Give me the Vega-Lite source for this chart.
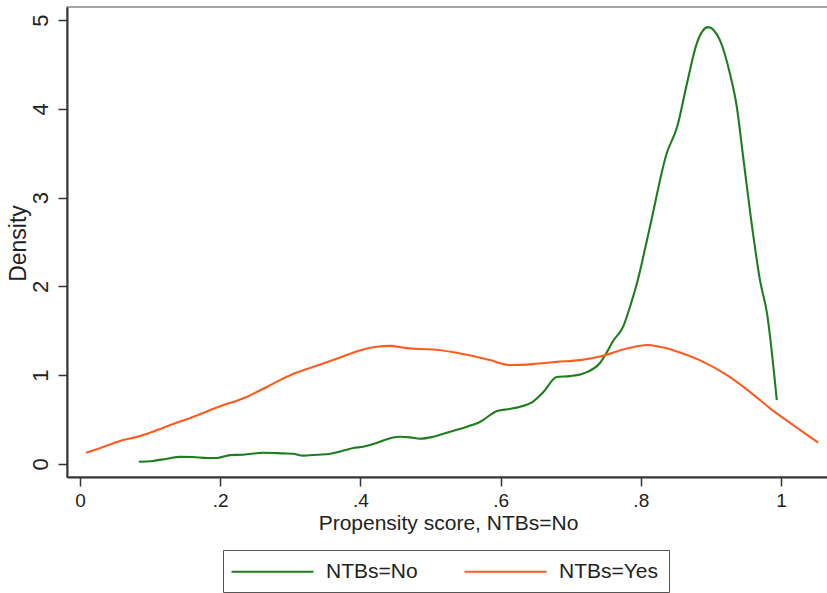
{
  "$schema": "https://vega.github.io/schema/vega-lite/v6.json",
  "autosize": "none",
  "width": 762,
  "height": 470,
  "padding": {"left": 67, "top": 7, "right": 0, "bottom": 116},
  "background": "white",
  "config": {
    "font": "Liberation Sans",
    "view": {"stroke": "#8a8a8a", "strokeWidth": 1.5},
    "axis": {"grid": false, "domainColor": "#333333", "domainWidth": 2, "tickColor": "#333333", "tickWidth": 1.5, "labelColor": "#222222", "titleColor": "#222222", "labelFont": "Liberation Sans", "titleFont": "Liberation Sans", "titleFontWeight": "normal"}
  },
  "datasets": {
    "curves": [
      {"s": "NTBs=No", "x": 0.084, "y": 0.026},
      {"s": "NTBs=No", "x": 0.104, "y": 0.034},
      {"s": "NTBs=No", "x": 0.124, "y": 0.06},
      {"s": "NTBs=No", "x": 0.143, "y": 0.08},
      {"s": "NTBs=No", "x": 0.161, "y": 0.078},
      {"s": "NTBs=No", "x": 0.181, "y": 0.067},
      {"s": "NTBs=No", "x": 0.195, "y": 0.067},
      {"s": "NTBs=No", "x": 0.214, "y": 0.1},
      {"s": "NTBs=No", "x": 0.233, "y": 0.105},
      {"s": "NTBs=No", "x": 0.261, "y": 0.127},
      {"s": "NTBs=No", "x": 0.29, "y": 0.12},
      {"s": "NTBs=No", "x": 0.304, "y": 0.116},
      {"s": "NTBs=No", "x": 0.318, "y": 0.094},
      {"s": "NTBs=No", "x": 0.338, "y": 0.105},
      {"s": "NTBs=No", "x": 0.357, "y": 0.116},
      {"s": "NTBs=No", "x": 0.375, "y": 0.15},
      {"s": "NTBs=No", "x": 0.39, "y": 0.18},
      {"s": "NTBs=No", "x": 0.404, "y": 0.195},
      {"s": "NTBs=No", "x": 0.423, "y": 0.236},
      {"s": "NTBs=No", "x": 0.438, "y": 0.28},
      {"s": "NTBs=No", "x": 0.456, "y": 0.307},
      {"s": "NTBs=No", "x": 0.471, "y": 0.3},
      {"s": "NTBs=No", "x": 0.485, "y": 0.285},
      {"s": "NTBs=No", "x": 0.504, "y": 0.307},
      {"s": "NTBs=No", "x": 0.528, "y": 0.364},
      {"s": "NTBs=No", "x": 0.552, "y": 0.42},
      {"s": "NTBs=No", "x": 0.571, "y": 0.476},
      {"s": "NTBs=No", "x": 0.595, "y": 0.597},
      {"s": "NTBs=No", "x": 0.613, "y": 0.62},
      {"s": "NTBs=No", "x": 0.628, "y": 0.645},
      {"s": "NTBs=No", "x": 0.646, "y": 0.7},
      {"s": "NTBs=No", "x": 0.661, "y": 0.81},
      {"s": "NTBs=No", "x": 0.68, "y": 0.98},
      {"s": "NTBs=No", "x": 0.699, "y": 0.99},
      {"s": "NTBs=No", "x": 0.718, "y": 1.02},
      {"s": "NTBs=No", "x": 0.742, "y": 1.14},
      {"s": "NTBs=No", "x": 0.751, "y": 1.25},
      {"s": "NTBs=No", "x": 0.76, "y": 1.38},
      {"s": "NTBs=No", "x": 0.775, "y": 1.55},
      {"s": "NTBs=No", "x": 0.785, "y": 1.78},
      {"s": "NTBs=No", "x": 0.795, "y": 2.05},
      {"s": "NTBs=No", "x": 0.813, "y": 2.67},
      {"s": "NTBs=No", "x": 0.837, "y": 3.5},
      {"s": "NTBs=No", "x": 0.852, "y": 3.8},
      {"s": "NTBs=No", "x": 0.866, "y": 4.29},
      {"s": "NTBs=No", "x": 0.88, "y": 4.74},
      {"s": "NTBs=No", "x": 0.896, "y": 4.92},
      {"s": "NTBs=No", "x": 0.913, "y": 4.77},
      {"s": "NTBs=No", "x": 0.927, "y": 4.4},
      {"s": "NTBs=No", "x": 0.937, "y": 4.02},
      {"s": "NTBs=No", "x": 0.946, "y": 3.46},
      {"s": "NTBs=No", "x": 0.96, "y": 2.6},
      {"s": "NTBs=No", "x": 0.97, "y": 2.07},
      {"s": "NTBs=No", "x": 0.98, "y": 1.7},
      {"s": "NTBs=No", "x": 0.994, "y": 0.72},
      {"s": "NTBs=Yes", "x": 0.0086, "y": 0.127},
      {"s": "NTBs=Yes", "x": 0.029, "y": 0.18},
      {"s": "NTBs=Yes", "x": 0.057, "y": 0.26},
      {"s": "NTBs=Yes", "x": 0.086, "y": 0.315},
      {"s": "NTBs=Yes", "x": 0.104, "y": 0.364},
      {"s": "NTBs=Yes", "x": 0.133, "y": 0.45},
      {"s": "NTBs=Yes", "x": 0.161, "y": 0.53},
      {"s": "NTBs=Yes", "x": 0.2, "y": 0.65},
      {"s": "NTBs=Yes", "x": 0.233, "y": 0.74},
      {"s": "NTBs=Yes", "x": 0.267, "y": 0.87},
      {"s": "NTBs=Yes", "x": 0.3, "y": 1.0},
      {"s": "NTBs=Yes", "x": 0.328, "y": 1.08},
      {"s": "NTBs=Yes", "x": 0.357, "y": 1.16},
      {"s": "NTBs=Yes", "x": 0.375, "y": 1.21},
      {"s": "NTBs=Yes", "x": 0.4, "y": 1.28},
      {"s": "NTBs=Yes", "x": 0.423, "y": 1.32},
      {"s": "NTBs=Yes", "x": 0.442, "y": 1.33},
      {"s": "NTBs=Yes", "x": 0.466, "y": 1.305},
      {"s": "NTBs=Yes", "x": 0.485, "y": 1.295},
      {"s": "NTBs=Yes", "x": 0.504, "y": 1.29},
      {"s": "NTBs=Yes", "x": 0.552, "y": 1.23},
      {"s": "NTBs=Yes", "x": 0.585, "y": 1.17},
      {"s": "NTBs=Yes", "x": 0.613, "y": 1.115},
      {"s": "NTBs=Yes", "x": 0.646, "y": 1.125},
      {"s": "NTBs=Yes", "x": 0.68, "y": 1.15},
      {"s": "NTBs=Yes", "x": 0.713, "y": 1.17},
      {"s": "NTBs=Yes", "x": 0.742, "y": 1.21},
      {"s": "NTBs=Yes", "x": 0.78, "y": 1.3},
      {"s": "NTBs=Yes", "x": 0.809, "y": 1.34},
      {"s": "NTBs=Yes", "x": 0.827, "y": 1.32},
      {"s": "NTBs=Yes", "x": 0.86, "y": 1.245},
      {"s": "NTBs=Yes", "x": 0.884, "y": 1.17},
      {"s": "NTBs=Yes", "x": 0.923, "y": 1.0},
      {"s": "NTBs=Yes", "x": 0.956, "y": 0.81},
      {"s": "NTBs=Yes", "x": 0.984, "y": 0.63},
      {"s": "NTBs=Yes", "x": 1.017, "y": 0.44},
      {"s": "NTBs=Yes", "x": 1.053, "y": 0.24}
    ]
  },
  "data": {"name": "curves"},
  "mark": {"type": "line", "strokeWidth": 2.1, "interpolate": "monotone", "clip": true},
  "encoding": {
    "x": {
      "field": "x", "type": "quantitative",
      "scale": {"domain": [-0.01854, 1.06848], "nice": false, "zero": false},
      "axis": {"values": [0, 0.2, 0.4, 0.6, 0.8, 1], "labelExpr": "replace(format(datum.value, '~g'), '0.', '.')", "tickSize": 9, "labelPadding": 5, "labelFontSize": 19, "labelFlush": false,
        "title": "Propensity score, NTBs=No", "titleFontSize": 21, "titleBaseline": "alphabetic", "titleY": 52, "titleAlign": "center"}
    },
    "y": {
      "field": "y", "type": "quantitative",
      "scale": {"domain": [-0.1464, 5.1464], "nice": false, "zero": false},
      "axis": {"values": [0, 1, 2, 3, 4, 5], "tickSize": 9, "labelAngle": -90, "labelAlign": "center", "labelBaseline": "alphabetic", "labelPadding": 11, "labelFontSize": 22, "labelFlush": false,
        "title": "Density", "titleFontSize": 23, "titleAngle": -90, "titleBaseline": "alphabetic", "titleAlign": "center", "titleX": -42, "titleY": 236}
    },
    "color": {
      "field": "s", "type": "nominal",
      "scale": {"domain": ["NTBs=No", "NTBs=Yes"], "range": ["#1e7d1e", "#ff5b21"]},
      "legend": {
        "title": null, "orient": "none", "legendX": 156, "legendY": 543,
        "direction": "horizontal", "columns": 2,
        "symbolType": "M-1.3,0H6.9", "symbolSize": 400, "symbolStrokeWidth": 2.1, "symbolFillColor": "transparent",
        "labelFontSize": 21, "labelFont": "Liberation Sans", "labelColor": "#222222", "labelOffset": 70,
        "columnPadding": 42, "padding": 10, "strokeColor": "#555555", "fillColor": "white", "cornerRadius": 0
      }
    }
  }
}
